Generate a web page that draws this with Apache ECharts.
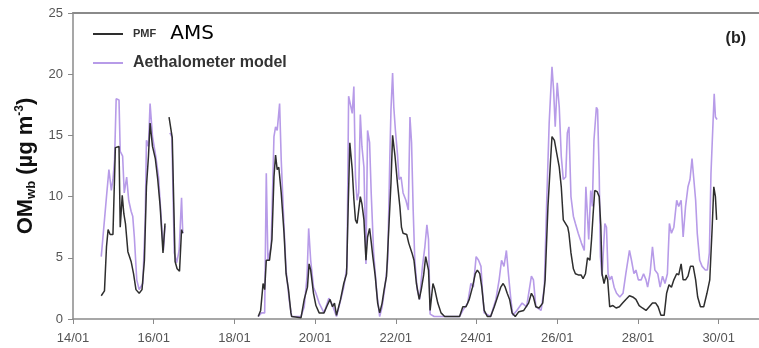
<!DOCTYPE html>
<html>
<head>
<meta charset="utf-8">
<script src="https://cdn.jsdelivr.net/npm/echarts@6/dist/echarts.min.js"></script>
<style>
  html, body { margin: 0; padding: 0; background: #fff; }
  #chart { width: 759px; height: 348px; }
</style>
</head>
<body>
<div id="chart"></div>
<script>
// Time in days of January (fractional), null marks a gap in the record.
const pmfDays = [
  14.70, 14.78, 14.83, 14.87, 14.92, 14.99, 15.02, 15.05, 15.14, 15.17, 15.22, 15.26, 15.30, 15.36, 15.44,
  15.50, 15.56, 15.64, 15.71, 15.77, 15.82, 15.87, 15.91, 15.97, 16.04, 16.10, 16.16, 16.23, 16.28, 16.33,
  16.38, 16.46, 16.53, 16.58, 16.64, 16.69, 16.72, 17.50,
  18.59, 18.65, 18.71, 18.75, 18.79, 18.87, 18.93, 18.98, 19.02, 19.06, 19.10, 19.16, 19.23, 19.28, 19.34,
  19.40, 19.42, 19.65, 19.73, 19.81, 19.85, 19.89, 19.96, 20.02, 20.10, 20.22, 20.30, 20.37, 20.43, 20.48,
  20.53, 20.63, 20.71, 20.78, 20.82, 20.86, 20.92, 20.96, 21.00, 21.04, 21.08, 21.12, 21.16, 21.21, 21.26,
  21.30, 21.35, 21.39, 21.43, 21.49, 21.55, 21.60, 21.66, 21.71, 21.77, 21.82, 21.88, 21.92, 21.98, 22.04,
  22.10, 22.14, 22.18, 22.27, 22.32, 22.36, 22.40, 22.45, 22.51, 22.58, 22.63, 22.69, 22.74, 22.78, 22.81,
  22.85, 22.92, 22.96, 23.04, 23.12, 23.21, 23.58, 23.66, 23.74, 23.82, 23.90, 23.97, 24.02, 24.08, 24.13,
  24.19, 24.27, 24.35, 24.44, 24.52, 24.60, 24.66, 24.71, 24.76, 24.82, 24.88, 24.96, 25.05, 25.17, 25.29,
  25.36, 25.41, 25.47, 25.55, 25.64, 25.70, 25.77, 25.83, 25.87, 25.93, 25.99, 26.05, 26.10, 26.15, 26.19,
  26.26, 26.29, 26.34, 26.40, 26.45, 26.52, 26.59, 26.64, 26.70, 26.75, 26.81, 26.85, 26.89, 26.93, 26.99,
  27.04, 27.08, 27.11, 27.16, 27.21, 27.25, 27.30, 27.38, 27.46, 27.54, 27.62, 27.70, 27.79, 27.87, 27.95,
  28.03, 28.11, 28.20, 28.28, 28.36, 28.44, 28.50, 28.57, 28.65, 28.71, 28.77, 28.83, 28.89, 28.96, 29.01,
  29.07, 29.12, 29.18, 29.24, 29.30, 29.37, 29.43, 29.48, 29.55, 29.63, 29.71, 29.78, 29.84, 29.88, 29.92,
  29.95
];
const pmfValues = [
  1.9, 2.3, 5.9, 7.3, 6.9, 6.9, 7.0, 14.0, 14.1, 7.5, 10.1, 8.6, 7.8, 5.5, 4.7,
  3.7, 2.4, 2.1, 2.4, 4.8, 10.8, 13.3, 16.0, 14.1, 13.1, 11.4, 9.2, 5.4, 7.8, null,
  16.5, 14.8, 4.7, 4.1, 3.9, 7.3, 7.0, null,
  0.2, 0.7, 2.9, 2.4, 4.8, 4.8, 6.5, 11.6, 13.4, 12.2, 12.4, 10.3, 7.0, 3.7, 2.4,
  0.5, 0.2, 0.1, 1.6, 2.6, 4.5, 4.0, 2.1, 1.1, 0.5, 0.5, 1.1, 1.6, 1.0, 1.3,
  0.3, 1.6, 2.9, 3.7, 9.2, 14.4, 12.2, 9.8, 8.1, 7.8, 8.9, 10.0, 9.4, 8.1, 4.8,
  6.7, 7.4, 6.3, 5.1, 3.5, 1.3, 0.5, 1.3, 2.4, 3.5, 7.0, 11.1, 15.0, 13.3, 11.1,
  9.2, 7.5, 7.0, 6.9, 6.2, 6.3, 5.4, 4.8, 2.9, 1.6, 2.4, 3.6, 5.1, 5.2, 4.0,
  0.7, 2.9, 2.5, 1.3, 0.5, 0.2, 0.2, 1.0, 1.0, 1.6, 2.6, 3.7, 4.0, 3.7, 2.6,
  0.7, 0.2, 0.2, 1.0, 1.8, 2.6, 2.9, 2.6, 2.1, 1.6, 0.5, 0.2, 0.6, 0.7, 1.3,
  2.1, 1.8, 1.0, 0.9, 1.3, 3.2, 9.2, 12.7, 14.9, 14.6, 13.5, 12.4, 10.8, 8.1, 8.0,
  7.5, 7.0, 5.4, 4.1, 3.7, 3.6, 3.6, 3.3, 3.7, 5.0, 4.8, 6.5, 8.6, 10.5, 10.4,
  10.0, 7.6, 3.7, 2.9, 3.6, 3.2, 1.0, 1.1, 0.9, 1.0, 1.3, 1.6, 1.9, 1.8, 1.6,
  1.1, 0.9, 0.7, 1.0, 1.3, 1.3, 1.0, 0.3, 0.3, 2.1, 2.8, 2.6, 3.2, 3.7, 3.6,
  4.5, 3.2, 3.2, 3.5, 4.3, 4.3, 3.2, 1.8, 1.0, 1.0, 2.1, 3.2, 7.5, 10.8, 10.0,
  8.1
];

const aethDays = [
  14.70, 14.83, 14.89, 14.95, 14.99, 15.03, 15.07, 15.14, 15.17, 15.23, 15.27, 15.33, 15.38, 15.44, 15.48,
  15.52, 15.58, 15.64, 15.73, 15.79, 15.82, 15.87, 15.91, 15.97, 16.05, 16.12, 16.18, 16.24, 16.28, 16.34,
  16.40, 16.45, 16.51, 16.57, 16.63, 16.69, 16.72, 17.50,
  18.59, 18.67, 18.75, 18.79, 18.83, 18.91, 18.98, 19.02, 19.06, 19.12, 19.16, 19.23, 19.28, 19.36, 19.42,
  19.65, 19.73, 19.80, 19.84, 19.89, 19.96, 20.02, 20.10, 20.22, 20.34, 20.42, 20.53, 20.63, 20.71, 20.79,
  20.83, 20.87, 20.92, 20.96, 21.00, 21.04, 21.08, 21.12, 21.16, 21.21, 21.26, 21.30, 21.35, 21.39, 21.45,
  21.53, 21.60, 21.66, 21.73, 21.80, 21.85, 21.88, 21.92, 21.95, 21.99, 22.04, 22.08, 22.13, 22.18, 22.25,
  22.31, 22.35, 22.39, 22.43, 22.47, 22.53, 22.59, 22.66, 22.72, 22.77, 22.81, 22.85, 22.95, 23.10, 23.30,
  23.58, 23.66, 23.78, 23.86, 23.92, 23.99, 24.05, 24.11, 24.15, 24.19, 24.35, 24.48, 24.56, 24.62, 24.68,
  24.74, 24.79, 24.85, 24.90, 25.00, 25.13, 25.24, 25.36, 25.41, 25.47, 25.60, 25.68, 25.74, 25.80, 25.87,
  25.91, 25.95, 26.00, 26.05, 26.10, 26.15, 26.21, 26.25, 26.29, 26.34, 26.40, 26.45, 26.52, 26.60, 26.67,
  26.71, 26.75, 26.78, 26.83, 26.87, 26.91, 26.97, 27.00, 27.04, 27.07, 27.11, 27.18, 27.22, 27.26, 27.30,
  27.35, 27.41, 27.47, 27.55, 27.63, 27.70, 27.79, 27.84, 27.90, 27.95, 28.01, 28.08, 28.14, 28.20, 28.24,
  28.30, 28.36, 28.42, 28.49, 28.55, 28.61, 28.67, 28.73, 28.78, 28.83, 28.89, 28.96, 29.01, 29.07, 29.12,
  29.18, 29.24, 29.29, 29.34, 29.38, 29.43, 29.47, 29.53, 29.59, 29.67, 29.72, 29.77, 29.81, 29.86, 29.89,
  29.92, 29.96
];
const aethValues = [
  5.1, 10.0, 12.2, 10.5, 11.4, 13.0, 18.0, 17.9, 13.7, 13.3, 10.3, 11.6, 9.7, 8.8, 8.4,
  6.7, 3.2, 2.4, 2.9, 8.1, 14.6, 14.1, 17.6, 14.9, 13.3, 11.6, 8.5, 5.6, 7.6, null,
  15.2, 14.9, 5.4, 4.6, 5.6, 9.9, 7.0, null,
  0.2, 0.5, 0.5, 11.9, 4.8, 5.9, 14.9, 15.7, 15.4, 17.6, 13.0, 7.5, 4.0, 1.5, 0.2,
  0.2, 1.0, 3.5, 7.4, 4.8, 2.6, 2.1, 1.3, 0.5, 1.7, 1.2, 0.2, 1.5, 2.6, 4.3,
  18.2, 17.6, 16.8, 19.0, 11.6, 9.7, 10.3, 16.7, 14.1, 12.4, 4.5, 15.4, 14.4, 10.3, 5.4,
  2.1, 0.2, 1.0, 2.6, 4.8, 13.0, 17.1, 20.1, 17.3, 15.4, 13.5, 11.4, 11.6, 10.3, 9.7,
  8.9, 16.5, 14.4, 8.9, 4.8, 2.4, 1.6, 4.3, 5.9, 7.7, 6.5, 0.4, 0.2, 0.2, 0.2,
  0.2, 0.7, 1.3, 2.9, 2.6, 5.1, 4.8, 4.3, 2.1, 0.5, 0.2, 1.6, 3.2, 4.8, 4.3,
  5.6, 3.7, 1.6, 0.3, 0.7, 1.3, 1.0, 3.5, 3.2, 1.0, 0.7, 2.6, 9.7, 16.0, 20.6,
  18.7, 15.7, 19.3, 17.3, 13.3, 11.4, 11.6, 15.2, 15.7, 10.0, 8.4, 7.8, 7.0, 6.2, 5.6,
  10.8, 8.4, 6.5, 10.5, 9.2, 14.6, 17.3, 17.1, 11.9, 5.1, 3.5, 7.8, 7.5, 3.7, 3.2,
  3.5, 2.6, 2.1, 1.8, 2.1, 3.7, 5.6, 4.8, 3.7, 4.0, 3.2, 3.2, 3.7, 3.2, 2.6,
  3.7, 5.9, 4.0, 3.7, 2.6, 3.5, 2.9, 3.7, 7.8, 7.0, 7.5, 9.7, 9.2, 9.7, 6.7,
  9.2, 10.8, 11.4, 13.1, 11.6, 9.7, 7.0, 4.8, 4.3, 4.0, 4.0, 5.4, 11.9, 16.0, 18.4,
  16.5, 16.3
];

// Y-axis and x-axis settings
const yTicks = [0, 5, 10, 15, 20, 25];
const xTickDays = [14, 16, 18, 20, 22, 24, 26, 28, 30];

const toPairs = (days, vals) => days.map((d, i) => [d, vals[i]]);
const fontFam = 'Arial, "Liberation Sans", sans-serif';
const pmfColor = '#2e2e2e';
const aethColor = '#b79be8';

const chart = echarts.init(document.getElementById('chart'));
chart.setOption({
  animation: false,
  backgroundColor: '#ffffff',
  title: {
    text: '(b)',
    right: 8,
    top: 26,
    textStyle: { fontFamily: fontFam, fontSize: 16, fontWeight: 'bold', color: '#222' }
  },
  legend: [
    {
      data: [{ name: 'PMF AMS', icon: 'rect', itemStyle: { color: pmfColor } }],
      left: 88, top: 19,
      itemWidth: 30, itemHeight: 2,
      formatter: () => '{p|PMF}{a|AMS}',
      textStyle: {
        padding: [0, 0, 0, 5],
        rich: {
          p: { fontFamily: fontFam, fontSize: 11, fontWeight: 'bold', color: '#333' },
          a: { fontFamily: '"Comic Sans MS", "DejaVu Sans", sans-serif', fontSize: 20, color: '#000', padding: [0, 0, 0, 14] }
        }
      }
    },
    {
      data: [{ name: 'Aethalometer model', icon: 'rect', itemStyle: { color: aethColor } }],
      left: 88, top: 50,
      itemWidth: 30, itemHeight: 2,
      textStyle: {
        padding: [0, 0, 0, 5],
        fontFamily: fontFam, fontSize: 16, fontWeight: 'bold', color: '#333'
      }
    }
  ],
  grid: { left: 73, right: -7, top: 13, bottom: 29 },
  xAxis: [
    {
      type: 'value',
      min: 14, max: 31, interval: 2,
      axisLine: { lineStyle: { color: '#8a8a8a', width: 1.5 } },
      axisTick: { show: true, length: 5, lineStyle: { color: '#8a8a8a' } },
      splitLine: { show: false },
      axisLabel: {
        margin: 13,
        showMaxLabel: false,
        fontFamily: fontFam, fontSize: 13, color: '#555',
        formatter: v => xTickDays.includes(v) ? String(v).padStart(2, '0') + '/01' : ''
      }
    },
    {
      type: 'value', position: 'top',
      min: 14, max: 31,
      axisLine: { show: true, onZero: false, lineStyle: { color: '#8a8a8a', width: 2 } },
      axisTick: { show: false }, axisLabel: { show: false }, splitLine: { show: false }
    }
  ],
  yAxis: {
    type: 'value',
    min: yTicks[0], max: yTicks[yTicks.length - 1], interval: 5,
    axisLine: { show: true, lineStyle: { color: '#8a8a8a', width: 1.5 } },
    axisTick: { show: true, length: 5, lineStyle: { color: '#8a8a8a' } },
    splitLine: { show: false },
    axisLabel: { margin: 10, fontFamily: fontFam, fontSize: 13, color: '#555' },
    name: '{a|OM}{s|wb}{a| (µg m}{p|-3}{a|)}',
    nameLocation: 'middle',
    nameRotate: 90,
    nameGap: 35,
    nameTextStyle: {
      rich: {
        a: { fontFamily: fontFam, fontSize: 22, fontWeight: 'bold', color: '#111', lineHeight: 24, verticalAlign: 'middle' },
        s: { fontFamily: fontFam, fontSize: 13, fontWeight: 'bold', color: '#111', lineHeight: 24, verticalAlign: 'bottom', padding: [10, 0, 0, 0] },
        p: { fontFamily: fontFam, fontSize: 12, fontWeight: 'bold', color: '#111', lineHeight: 24, verticalAlign: 'top', padding: [0, 0, 10, 0] }
      }
    }
  },
  series: [
    {
      name: 'Aethalometer model',
      type: 'line',
      data: toPairs(aethDays, aethValues),
      showSymbol: false, symbol: 'none',
      connectNulls: false,
      z: 2,
      lineStyle: { color: aethColor, width: 1.6 },
      itemStyle: { color: aethColor }
    },
    {
      name: 'PMF AMS',
      type: 'line',
      data: toPairs(pmfDays, pmfValues),
      showSymbol: false, symbol: 'none',
      connectNulls: false,
      z: 3,
      lineStyle: { color: pmfColor, width: 1.5 },
      itemStyle: { color: pmfColor }
    }
  ]
});
</script>
</body>
</html>
